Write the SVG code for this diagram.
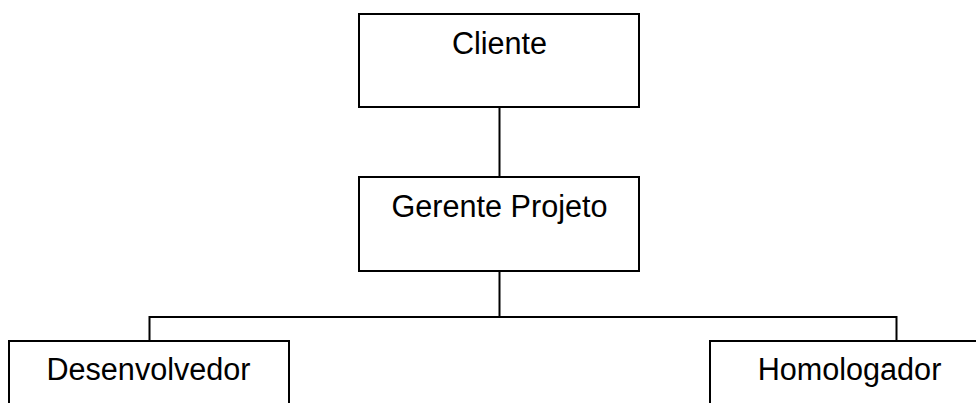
<svg xmlns="http://www.w3.org/2000/svg" width="976" height="403" viewBox="0 0 976 403">
<style>
.box{fill:#fff;stroke:#000;stroke-width:2}
.conn{fill:none;stroke:#000;stroke-width:2}
text{font-family:"Liberation Sans",Arial,sans-serif;font-size:30.6px;fill:#000;text-anchor:middle}
</style>
<rect width="976" height="403" fill="#fff"/>
<g id="connectors">
<line class="conn" x1="499.5" y1="107" x2="499.5" y2="177"/>
<line class="conn" x1="499.5" y1="271" x2="499.5" y2="317"/>
<polyline class="conn" points="149.5,341 149.5,317 896.5,317 896.5,341"/>
</g>
<g id="cliente">
<rect class="box" x="359" y="14" width="280" height="93"/>
<text x="499.5" y="53.5">Cliente</text>
</g>
<g id="gerente">
<rect class="box" x="359" y="177" width="280" height="94"/>
<text x="499.5" y="217">Gerente Projeto</text>
</g>
<g id="desenvolvedor">
<rect class="box" x="9" y="341" width="280" height="80"/>
<text x="148.5" y="379.5">Desenvolvedor</text>
</g>
<g id="homologador">
<rect class="box" x="710" y="341" width="280" height="80"/>
<text x="849.5" y="379.5">Homologador</text>
</g>
</svg>
